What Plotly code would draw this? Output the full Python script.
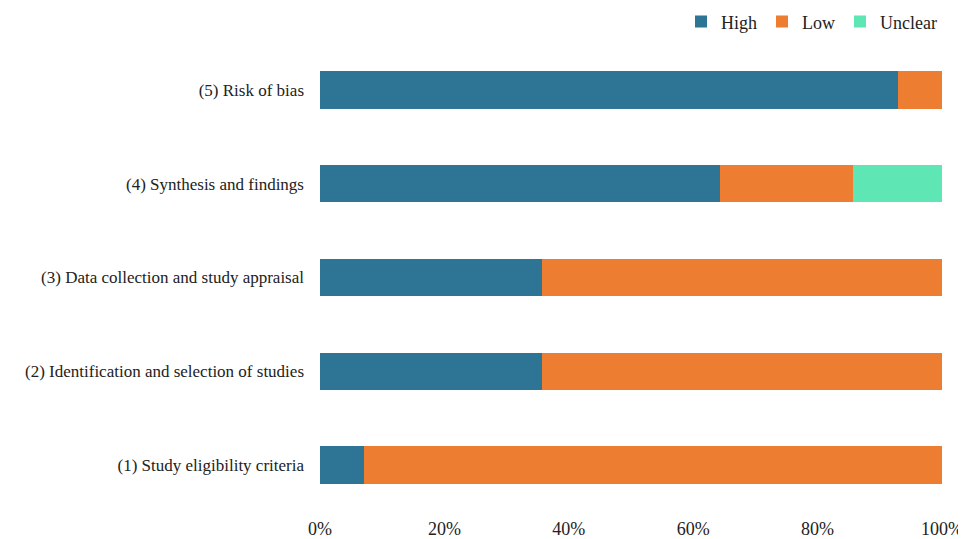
import plotly.graph_objects as go

categories = [
    "(1) Study eligibility criteria",
    "(2) Identification and selection of studies",
    "(3) Data collection and study appraisal",
    "(4) Synthesis and findings",
    "(5) Risk of bias",
]
high = [7.14, 35.71, 35.71, 64.29, 92.86]
low = [92.86, 64.29, 64.29, 21.43, 7.14]
unclear = [0, 0, 0, 14.29, 0]
tick_vals = [0, 20, 40, 60, 80, 100]
tick_text = ["0%", "20%", "40%", "60%", "80%", "100%"]

font = "Liberation Serif, Times New Roman, serif"
fig = go.Figure()
for name, vals, col in [("High", high, "#2E7595"), ("Low", low, "#ED7D31"), ("Unclear", unclear, "#5EE6B5")]:
    fig.add_trace(go.Bar(y=categories, x=vals, name=name, orientation="h",
                         marker=dict(color=col, line=dict(width=0)),
                         hoverinfo="x+name"))

fig.update_layout(
    barmode="stack",
    width=958, height=531,
    margin=dict(l=312, r=24, t=35, b=27, autoexpand=False),
    plot_bgcolor="white", paper_bgcolor="white",
    bargap=0.6,
    font=dict(family=font, size=18, color="#222222"),
    legend=dict(orientation="h", xref="paper", x=1.0, xanchor="right",
                yref="container", y=0.974, yanchor="middle",
                font=dict(family=font, size=18), traceorder="normal",
                itemwidth=30),
    xaxis=dict(range=[0, 100], tickvals=tick_vals, ticktext=tick_text, showgrid=False,
               zeroline=False, showline=False, ticks="", tickfont=dict(size=18),
               automargin=False, ticklabelstandoff=4),
    yaxis=dict(showgrid=False, zeroline=False, showline=False, ticks="",
               ticklabelstandoff=15, tickfont=dict(size=17), automargin=False),
)
fig.write_html("out.html")
